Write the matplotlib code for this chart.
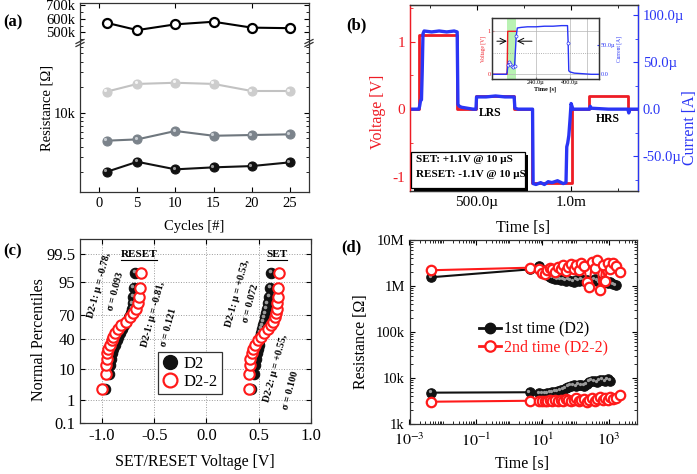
import matplotlib
matplotlib.use("Agg")
import matplotlib.pyplot as plt
from matplotlib import transforms
from matplotlib.lines import Line2D
from matplotlib.patches import Rectangle
from matplotlib.ticker import MultipleLocator, LogLocator, NullFormatter
from statistics import NormalDist

plt.rcParams['font.family'] = ['Liberation Serif', 'DejaVu Serif']
plt.rcParams['mathtext.fontset'] = 'stix'
plt.rcParams['font.size'] = 10.5
plt.rcParams['xtick.direction'] = 'in'
plt.rcParams['ytick.direction'] = 'in'
plt.rcParams['xtick.major.size'] = 3.5
plt.rcParams['ytick.major.size'] = 3.5
plt.rcParams['xtick.minor.size'] = 2
plt.rcParams['ytick.minor.size'] = 2
plt.rcParams['axes.linewidth'] = 0.9
plt.rcParams['axes.edgecolor'] = '#333333'

RED = '#ee1c25'
BLUE = '#2a35f5'
nan = float('nan')

# (a) endurance
cycles = [1, 5, 10, 15, 20, 25]
r_hrs = [570e3, 517e3, 559e3, 578e3, 535e3, 531e3]
r_lrs1 = [17.7e3, 21.8e3, 22.5e3, 21.8e3, 18.0e3, 18.0e3]
r_lrs2 = [4.69e3, 4.86e3, 6.10e3, 5.36e3, 5.47e3, 5.57e3]
r_lrs3 = [2.02e3, 2.65e3, 2.16e3, 2.28e3, 2.36e3, 2.61e3]

# (b) pulse waveform, time in us, current in uA
t_v = [145, 193, 193, 394, 394, 495, 495, 700, 700, 796, 796, 1005, 1005, 1099, 1099, 1306, 1306, 1358]
v_pulse = [0, 0, 1.1, 1.1, 0, 0, 0.2, 0.2, 0, 0, -1.1, -1.1, 0, 0, 0.2, 0.2, 0, 0]
t_i = [145, 192, 196, 201, 206, 210, 214, 220, 260, 300, 340, 380, 396, 400, 408, 420, 450, 480, 496, 499,
       550, 600, 650, 699, 703, 720, 797, 800, 815, 840, 860, 880, 900, 930, 960, 975, 979, 984, 990, 996,
       1002, 1012, 1100, 1104, 1110, 1200, 1304, 1309, 1314, 1358]
i_pulse = [0, 0, 3, 9, 10, 40, 80, 83, 82, 83, 82, 83, 82, 5, 3, 2, 1, 0, 0, 13,
           13, 14, 13, 13, 1, 0, 0, -79, -80, -78, -80, -77, -78, -76, -79, -78, -40, -36, -28, -12,
           6, 0, 0, 3, 1, 0, 0, -4, 0, 0]
# inset
t_in_v = [33, 104, 107, 146]
v_in = [0, 0, 1.0, 1.0]
t_in = [33, 60, 90, 100, 104, 108, 113, 119, 126, 133, 139, 143, 147, 152, 170, 200, 240, 280, 320, 360,
        388, 391, 394, 400, 420, 460, 500, 536]
i_in = [0, 0, 0, 0, 3, 16, 21, 18, 14, 12, 14, 40, 66, 79, 80, 81, 81, 82, 82, 83,
        83, 53, 6, 4, 2, 1, 0, 0]

# (c) switching voltage distributions
pct = [2.5, 7.5, 12.5, 17.5, 22.5, 27.5, 32.5, 37.5, 42.5, 47.5,
       52.5, 57.5, 62.5, 67.5, 72.5, 77.5, 82.5, 87.5, 92.5, 97.5]
reset_d2 = [-0.97, -0.935, -0.925, -0.915, -0.905, -0.89, -0.875, -0.86, -0.845, -0.83,
            -0.81, -0.79, -0.77, -0.745, -0.72, -0.71, -0.705, -0.70, -0.695, -0.68]
reset_d22 = [-1.0, -0.96, -0.96, -0.953, -0.947, -0.938, -0.922, -0.906, -0.891, -0.875,
             -0.844, -0.813, -0.766, -0.735, -0.704, -0.672, -0.657, -0.641, -0.632, -0.625]
set_d2 = [0.43, 0.45, 0.465, 0.475, 0.485, 0.49, 0.50, 0.505, 0.51, 0.52,
          0.53, 0.54, 0.55, 0.56, 0.57, 0.58, 0.59, 0.60, 0.61, 0.62]
set_d22 = [0.405, 0.408, 0.413, 0.42, 0.432, 0.447, 0.468, 0.495, 0.525, 0.555,
           0.585, 0.615, 0.638, 0.655, 0.665, 0.672, 0.679, 0.684, 0.688, 0.69]

# (d) retention
t_ret = [0.0045, 4.2, 8, 10, 12, 14, 17, 20, 24, 29, 35, 42, 50, 60, 72, 86, 103, 124, 149, 179,
         215, 258, 310, 372, 446, 535, 642, 770, 924, 1110, 1330, 1600, 2100]
hrs_d2 = [1.55e6, 2.3e6, 2.7e6, 2.2e6, 1.9e6, 1.7e6, 1.6e6, 1.5e6, 1.45e6, 1.4e6,
          1.35e6, 1.4e6, 1.3e6, 1.35e6, 1.3e6, 1.25e6, 1.35e6, 1.3e6, 1.4e6, 1.3e6,
          1.35e6, 1.25e6, 1.3e6, 1.4e6, 1.3e6, 1.2e6, 1.3e6, 1.25e6, 1.15e6, 1.2e6,
          1.1e6, 1.05e6, nan]
hrs_d22 = [2.2e6, 2.5e6, 2.3e6, 1.9e6, 1.8e6, 2.2e6, 2.5e6, 2.4e6, 2.0e6, 2.6e6,
           2.3e6, 2.8e6, 2.1e6, 2.6e6, 3.0e6, 2.4e6, 2.9e6, 2.2e6, 3.2e6, 2.7e6,
           1.2e6, 0.95e6, 3.3e6, 2.5e6, 3.6e6, 0.8e6, 2.9e6, 1.3e6, 3.1e6, 2.4e6,
           3.2e6, 2.7e6, 2.0e6]
lrs_d2 = [4.8e3, 4.9e3, 4.7e3, 4.6e3, 4.6e3, 4.7e3, 4.8e3, 4.9e3, 5.0e3, 5.2e3,
          5.4e3, 5.6e3, 6.0e3, 6.4e3, 6.8e3, 7.0e3, 6.6e3, 7.2e3, 7.0e3, 6.8e3,
          7.4e3, 8.2e3, 8.8e3, 8.4e3, 8.0e3, 8.9e3, 9.2e3, 8.6e3, 9.4e3, 8.7e3,
          nan, nan, nan]
lrs_d22 = [3.05e3, 3.2e3, 3.1e3, 3.2e3, 3.1e3, 3.2e3, 3.3e3, 3.2e3, 3.3e3, 3.1e3,
           3.4e3, 3.2e3, 3.5e3, 3.3e3, 3.1e3, 3.4e3, 3.6e3, 3.2e3, 3.3e3, 3.5e3,
           3.0e3, 3.4e3, 3.7e3, 3.2e3, 3.5e3, 3.8e3, 3.3e3, 3.6e3, 3.4e3, 3.9e3,
           3.5e3, 3.7e3, 4.3e3]

W, H = 697, 474
fig = plt.figure(figsize=(W / 100, H / 100), dpi=100)


def px(x0, y0, x1, y1):
    return fig.add_axes([x0 / W, 1 - y1 / H, (x1 - x0) / W, (y1 - y0) / H])


def sphere(ax, x, y, ms, fc, hl):
    ax.plot(x, y, 'o', ls='none', ms=ms, mfc=fc, mec=fc, mew=0.8, zorder=3)
    sh = transforms.offset_copy(ax.transData, fig=fig, x=-ms * 0.16, y=ms * 0.16, units='points')
    ax.plot(x, y, 'o', ls='none', ms=ms * 0.35, mfc=hl, mec='none', transform=sh, zorder=4)


def ftext(x, y, s, **kw):
    fig.text(x / W, 1 - y / H, s, ha='center', va='center', **kw)


# ---------------- (a) ----------------
ax_up = px(80, 3, 309, 42)
ax_lo = px(80, 43, 309, 192)
ax_up.plot(cycles, r_hrs, '-', color='k', lw=1.5)
ax_up.plot(cycles, r_hrs, 'o', ms=6.5, mfc='white', mec='k', mew=1.6)
ax_up.set_xlim(-2.5, 27.5)
ax_up.set_ylim(430e3, 715e3)
ax_up.set_yticks([500e3, 600e3, 700e3], ['500k', '600k', '700k'])
ax_up.yaxis.set_minor_locator(MultipleLocator(50e3))
ax_up.spines['bottom'].set_visible(False)
ax_up.tick_params(axis='x', which='both', bottom=False, labelbottom=False, top=True)
ax_up.tick_params(axis='y', which='both', right=True)

ax_lo.set_yscale('log')
for r, lc, fc, hl in [(r_lrs1, '#c2c2c2', '#cdcdcd', '#f4f4f4'),
                      (r_lrs2, '#6f777e', '#7b838b', '#c8cdd2'),
                      (r_lrs3, '#111111', '#111111', '#9a9a9a')]:
    ax_lo.plot(cycles, r, '-', color=lc, lw=1.5)
    sphere(ax_lo, cycles, r, 6.5, fc, hl)
ax_lo.set_xlim(-2.5, 27.5)
ax_lo.set_ylim(1.17e3, 66e3)
ax_lo.set_yticks([1e4], ['10k'])
ax_lo.yaxis.set_minor_locator(LogLocator(subs=range(2, 10)))
ax_lo.yaxis.set_minor_formatter(NullFormatter())
ax_lo.set_xticks([0, 5, 10, 15, 20, 25])
ax_lo.spines['top'].set_visible(False)
ax_lo.tick_params(axis='y', which='both', right=True)

# axis break marks
for xb in (80, 309):
    for dy in (-1.5, 1.5):
        fig.add_artist(Line2D([(xb - 4) / W, (xb + 4) / W],
                              [1 - (43 + dy + 2) / H, 1 - (43 + dy - 2) / H],
                              color='#333333', lw=0.9))
ftext(46.7, 108, 'Resistance [Ω]', rotation=90, fontsize=10.5)
ftext(194, 226.7, 'Cycles [#]', fontsize=10.5)

# ---------------- (b) ----------------
ax_b = px(410, 5, 638, 191)
ax_b.plot(t_v, v_pulse, color=RED, lw=2)
ax_b.set_xlim(145, 1358)
ax_b.set_ylim(-1.214, 1.545)
ax_b.set_yticks([-1, 0, 1], ['-1', '0', '1'])
ax_b.yaxis.set_minor_locator(MultipleLocator(0.5))
ax_b.set_xticks([500, 1000], ['500.0µ', '1.0m'])
ax_b.xaxis.set_minor_locator(MultipleLocator(250))
ax_b.tick_params(axis='y', which='both', colors=RED, labelsize=11)
ax_b.tick_params(axis='x', which='both', top=True, labelsize=11)
ax_b.spines['left'].set_color(RED)

ax_b2 = ax_b.twinx()
ax_b2.plot(t_i, i_pulse, color=BLUE, lw=2.4)
ax_b2.set_ylim(-86.9, 110.6)
ax_b2.set_yticks([-50, 0, 50, 100], ['-50.0µ', '0.0', '50.0µ', '100.0µ'])
ax_b2.yaxis.set_minor_locator(MultipleLocator(25))
ax_b2.tick_params(axis='y', which='both', colors=BLUE, labelsize=10.5)
ax_b2.spines['right'].set_color(BLUE)
ax_b2.spines['left'].set_color(RED)

ax_b2.add_patch(Rectangle((0.017, -0.02), 0.5, 0.214, transform=ax_b2.transAxes,
                          fc='k', ec='none', zorder=5))
ax_b2.add_patch(Rectangle((0.004, 0.016), 0.5, 0.194, transform=ax_b2.transAxes,
                          fc='white', ec='k', lw=0.9, zorder=6))
ax_b2.text(0.025, 0.167, 'SET: +1.1V @ 10 µS', transform=ax_b2.transAxes, fontsize=8,
           fontweight='bold', va='center', zorder=7)
ax_b2.text(0.025, 0.09, 'RESET: -1.1V @ 10 µS', transform=ax_b2.transAxes, fontsize=8,
           fontweight='bold', va='center', zorder=7)
ax_b.text(574, -0.064, 'LRS', fontsize=8.5, fontweight='bold', ha='center', va='center')
ax_b.text(1200, -0.14, 'HRS', fontsize=8.5, fontweight='bold', ha='center', va='center')
ftext(378, 111.7, 'Voltage [V]', rotation=90, color=RED, fontsize=11.5)
ftext(689.5, 128, 'Current [A]', rotation=90, color=BLUE, fontsize=11.5)
ftext(523, 228, 'Time [s]', fontsize=11.5)

# inset
ax_in = px(492, 18, 599, 79)
ax_in.axvspan(104, 146, color='#b9f2b3', lw=0)
for tg in (240, 400, 480):
    ax_in.axvline(tg, color='#b5b5b5', lw=0.5)
ax_in.axhline(1.0, color='#b5b5b5', lw=0.5)
ax_in.axhline(0.0, color='#b5b5b5', lw=0.5)
ax_in.axhline(0.5, color='#999999', lw=0.6, ls=':')
ax_in.plot(t_in_v, v_in, color=RED, lw=1)
ax_in.set_xlim(33, 536)
ax_in.set_ylim(-0.11, 1.31)
ax_in.set_xticks([240, 400], ['240.0µ', '400.0µ'])
ax_in.set_yticks([0, 1], ['0', '1'])
ax_in.tick_params(labelsize=4.5, length=1.5, pad=1)
ax_in.tick_params(axis='y', colors=RED)
ax_in.set_ylabel('Voltage [V]', fontsize=4, color=RED, labelpad=1)
ax_in.set_xlabel('Time [s]', fontsize=4.5, labelpad=1, fontweight='bold')
ax_in.annotate('', xy=(103, 0.77), xytext=(56, 0.77),
               arrowprops=dict(arrowstyle='->', lw=0.7, color='k', shrinkA=0, shrinkB=0))
ax_in.annotate('', xy=(150, 0.77), xytext=(221, 0.77),
               arrowprops=dict(arrowstyle='->', lw=0.7, color='k', shrinkA=0, shrinkB=0))
ax_in2 = ax_in.twinx()
ax_in2.plot(t_in, i_in, color=BLUE, lw=1, marker='o', ms=2.2, mfc='white', mec=BLUE, mew=0.5,
            markevery=[5, 6, 7, 8, 9, 10, 12, 21])
ax_in2.set_ylim(-8, 96)
ax_in2.set_yticks([0, 50], ['0.0', '50.0µ'])
ax_in2.tick_params(axis='y', labelsize=4.5, length=1.5, pad=1, colors=BLUE)
ax_in2.set_ylabel('Current [A]', fontsize=4, color=BLUE, labelpad=1)

# ---------------- (c) ----------------
nd = NormalDist()
ax_c = px(80, 239, 311, 423)
zpos = [nd.inv_cdf(p / 100) for p in pct]
ax_c.grid(True, ls=':', color='#9a9a9a', lw=0.7)
ax_c.set_axisbelow(True)
sphere(ax_c, reset_d2, zpos, 7.5, '#111111', '#9a9a9a')
sphere(ax_c, set_d2, zpos, 7.5, '#111111', '#9a9a9a')
for xs in (reset_d22, set_d22):
    ax_c.plot(xs, zpos, 'o', ls='none', ms=7.5, mfc='white', mec='#ff1a1a', mew=1.5, zorder=5)
ax_c.set_xlim(-1.21, 1.0)
ax_c.set_ylim(nd.inv_cdf(0.001), nd.inv_cdf(0.999))
yt = [0.1, 1, 10, 40, 70, 95, 99.5]
ax_c.set_yticks([nd.inv_cdf(p / 100) for p in yt], ['0.1', '1', '10', '40', '70', '95', '99.5'])
ax_c.set_xticks([-1.0, -0.5, 0.0, 0.5, 1.0], ['-1.0', '-0.5', '0.0', '0.5', '1.0'])
ax_c.tick_params(top=True, right=True, labelsize=12)

ann = [(-1.026, 1.517, 'D2-1: µ = -0.78,'), (-0.865, 1.316, 'σ = 0.093'),
       (-0.513, 0.568, 'D2-1: µ = -0.81,'), (-0.363, 0.108, 'σ = 0.121'),
       (0.294, 1.262, 'D2-1: µ = +0.53,'), (0.423, 0.927, 'σ = 0.072'),
       (0.666, -1.254, 'D2-2: µ = +0.55,'), (0.801, -2.006, 'σ = 0.100')]
for xa, ya, s in ann:
    ax_c.text(xa, ya, s, rotation=75, fontsize=7.3, fontweight='bold', ha='center', va='center',
              rotation_mode='anchor', zorder=6)
ax_c.text(-0.646, 2.56, 'RESET', fontsize=8, fontweight='bold', ha='center', va='center')
ax_c.text(0.676, 2.56, 'SET', fontsize=8, fontweight='bold', ha='center', va='center')
ax_c.plot([-0.814, -0.478], [2.37, 2.37], color='k', lw=0.8)
ax_c.plot([0.58, 0.77], [2.37, 2.37], color='k', lw=0.8)
hd = Line2D([], [], ls='none', marker='o', ms=10, mfc='#111111', mec='#111111')
hr = Line2D([], [], ls='none', marker='o', ms=10, mfc='white', mec='#ff1a1a', mew=1.6)
leg_c = ax_c.legend([hd, hr], ['D2', 'D2-2'], loc='lower left', bbox_to_anchor=(0.3, 0.11),
                    fontsize=12, handlelength=1.0, handletextpad=0.3, labelspacing=0.15,
                    borderpad=0.25, fancybox=False, edgecolor='#333333', framealpha=1)
leg_c.get_frame().set_linewidth(0.9)
ftext(39, 340, 'Normal Percentiles', rotation=90, fontsize=11.5)
ftext(195, 461.7, 'SET/RESET Voltage [V]', fontsize=11.5)

# ---------------- (d) ----------------
ax_d = px(409.5, 240, 637, 424)
ax_d.set_xscale('log')
ax_d.set_yscale('log')
for rr in (hrs_d2, lrs_d2):
    ax_d.plot(t_ret, rr, '-', color='#111111', lw=1.5)
    sphere(ax_d, t_ret, rr, 6.8, '#111111', '#9a9a9a')
for rr in (hrs_d22, lrs_d22):
    ax_d.plot(t_ret, rr, '-', color='#ff1a1a', lw=1.5, marker='o', ms=6.8, mfc='white',
              mec='#ff1a1a', mew=1.6, zorder=5)
ax_d.set_xlim(1e-3, 7e3)
ax_d.set_ylim(1e3, 1e7)
ax_d.set_yticks([1e3, 1e4, 1e5, 1e6, 1e7], ['1k', '10k', '100k', '1M', '10M'])
ax_d.set_xticks([1e-3, 1e-1, 1e1, 1e3], ['$10^{-3}$', '$10^{-1}$', '$10^{1}$', '$10^{3}$'])
ax_d.xaxis.set_minor_locator(LogLocator(subs=range(1, 10), numticks=30))
ax_d.xaxis.set_minor_formatter(NullFormatter())
ax_d.yaxis.set_minor_locator(LogLocator(subs=range(2, 10), numticks=30))
ax_d.yaxis.set_minor_formatter(NullFormatter())
ax_d.tick_params(which='both', top=True, right=True)
ax_d.tick_params(axis='x', labelsize=11.5, pad=6)
h1 = Line2D([], [], color='#111111', lw=2, marker='o', ms=7.5, mfc='#111111', mec='#111111')
h2 = Line2D([], [], color='#ff1a1a', lw=2, marker='o', ms=7.5, mfc='white', mec='#ff1a1a', mew=1.6)
leg_d = ax_d.legend([h1, h2], ['1st time (D2)', '2nd time (D2-2)'], loc='upper left',
                    bbox_to_anchor=(0.27, 0.6), frameon=False, fontsize=11.5, handlelength=1.4,
                    handletextpad=0.2, labelspacing=0.1, borderpad=0)
leg_d.get_texts()[1].set_color('#ff1a1a')
ftext(361, 341.7, 'Resistance [Ω]', rotation=90, fontsize=11.5)
ftext(521.7, 464.3, 'Time [s]', fontsize=11.5)

# panel letters
for xl, yl, s in [(13, 22, '(a)'), (356, 25, '(b)'), (13, 251, '(c)'), (351, 247, '(d)')]:
    ftext(xl, yl, s, fontsize=12, fontweight='bold')

fig.savefig('out.png', dpi=100)
